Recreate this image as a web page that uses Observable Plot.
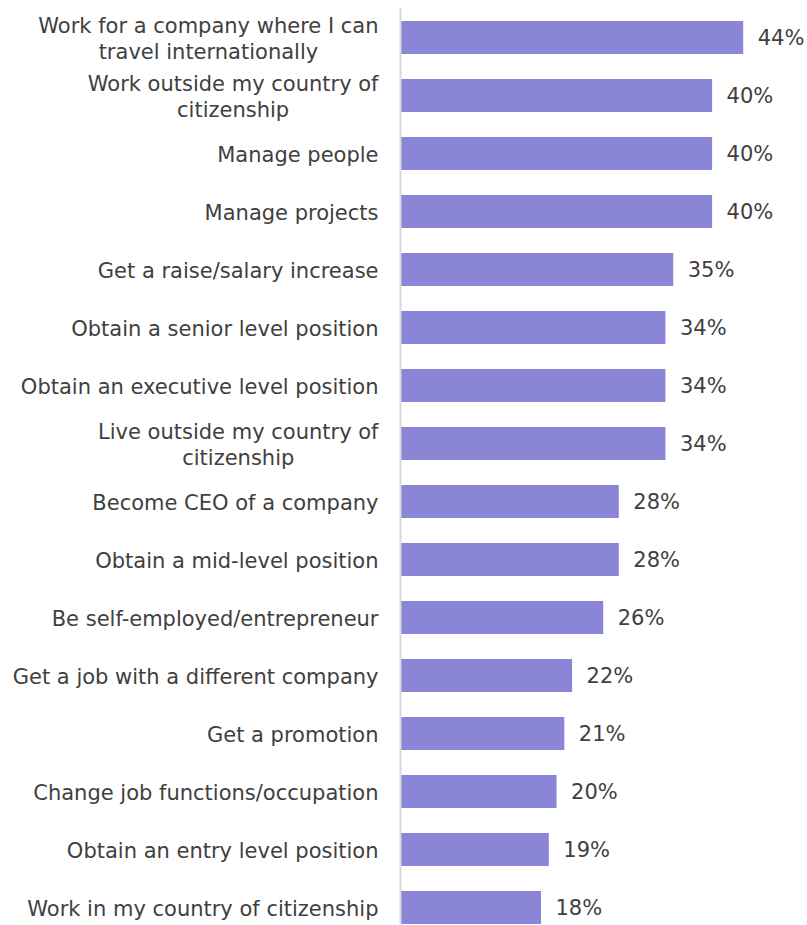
<!DOCTYPE html>
<html>
<head>
<meta charset="utf-8">
<script src="https://cdn.jsdelivr.net/npm/d3@7"></script>
<script src="https://cdn.jsdelivr.net/npm/@observablehq/plot@0.6"></script>
<style>
  html, body { margin: 0; padding: 0; background: #fff; }
  #chart svg { display: block; }
</style>
</head>
<body>
<div id="chart"></div>
<script>
const categories = [
  "Work for a company where I can travel internationally",
  "Work outside my country of citizenship",
  "Manage people",
  "Manage projects",
  "Get a raise/salary increase",
  "Obtain a senior level position",
  "Obtain an executive level position",
  "Live outside my country of citizenship",
  "Become CEO of a company",
  "Obtain a mid-level position",
  "Be self-employed/entrepreneur",
  "Get a job with a different company",
  "Get a promotion",
  "Change job functions/occupation",
  "Obtain an entry level position",
  "Work in my country of citizenship"
];
const values = [44, 40, 40, 40, 35, 34, 34, 34, 28, 28, 26, 22, 21, 20, 19, 18];
const wrappedLabels = {
  "Work for a company where I can travel internationally": "Work for a company where I can\ntravel internationally",
  "Work outside my country of citizenship": "Work outside my country of\ncitizenship",
  "Live outside my country of citizenship": "Live outside my country of\ncitizenship"
};

const data = categories.map((c, i) => ({category: c, value: values[i]}));
const font = "Tahoma, 'DejaVu Sans', sans-serif";

const chart = Plot.plot({
  width: 807,
  height: 925,
  marginLeft: 401,
  marginRight: 0,
  marginTop: 20,
  marginBottom: 0,
  style: {fontFamily: font, fontSize: "21px", color: "#404040", background: "#fff"},
  x: {domain: [0, 52.2], axis: null},
  y: {domain: categories, paddingInner: 0.43, paddingOuter: 0, label: null},
  marks: [
    Plot.barX(data, {x: "value", y: "category", fill: "#8b85d8"}),
    Plot.ruleX([0], {stroke: "#d9d9d9", strokeWidth: 2, dx: -1, insetTop: -12}),
    Plot.axisY({
      tickSize: 0,
      tickPadding: 23,
      fontSize: 21,
      fill: "#404040",
      label: null,
      tickFormat: d => wrappedLabels[d] || d,
      lineHeight: 1.24
    }),
    Plot.text(data, {
      x: "value",
      y: "category",
      text: d => d.value + "%",
      textAnchor: "start",
      dx: 14,
      fontSize: 21,
      fill: "#404040"
    })
  ]
});

document.getElementById("chart").appendChild(chart);

// center wrapped lines relative to one another while keeping the block right-aligned
chart.querySelectorAll("text").forEach(t => {
  const spans = t.querySelectorAll("tspan");
  if (spans.length > 1) {
    const widths = Array.from(spans, s => s.getComputedTextLength());
    const maxW = Math.max(...widths);
    spans.forEach((s, i) => {
      s.setAttribute("x", -(maxW - widths[i]) / 2);
    });
  }
});
</script>
</body>
</html>
